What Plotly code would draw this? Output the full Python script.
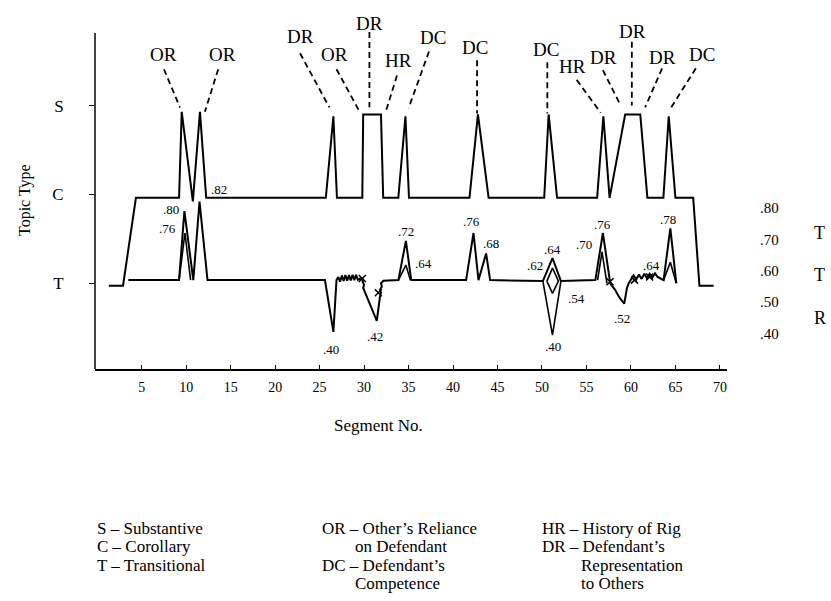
import plotly.graph_objects as go

# ---------------- data ----------------
# Topic-type path (segment number, level: T=1, C=2, S=3)
main_seg = [1.3, 2.9, 4.35, 9.2, 9.5, 10.75, 11.55, 12.25, 25.7, 26.55, 26.95, 29.8, 29.9, 31.9,
            32.15, 33.85, 34.65, 35.05, 41.85, 42.8, 44.0, 50.25, 50.75, 51.7, 56.2, 56.9, 57.6,
            59.35, 61.05, 61.85, 63.65, 64.25, 65.0, 67.0, 67.7, 69.3]
main_lvl = [0.97, 0.97, 1.96, 1.96, 2.93, 1.92, 2.93, 1.96, 1.96, 2.88, 1.96, 1.96, 2.9, 2.9,
            1.96, 1.96, 2.88, 1.96, 1.96, 2.9, 1.96, 1.96, 2.9, 1.96, 1.96, 2.88, 1.96,
            2.9, 2.9, 1.96, 1.96, 2.88, 1.96, 1.96, 0.97, 0.97]

# Rating path (segment number, rating on right scale)
rate_seg = [3.5, 9.2, 9.8, 10.8, 11.5, 12.4, 25.6, 26.55, 26.9,
            27.1, 27.3, 27.5, 27.7, 27.9, 28.1, 28.3, 28.5, 28.7, 28.9, 29.1, 29.3, 29.55, 29.8,
            29.85, 30.0, 29.9, 30.05, 31.43, 31.8, 31.9, 31.8, 32.0, 31.9, 32.17,
            33.86, 34.7, 35.3, 41.47, 42.3, 42.86, 43.72, 44.17, 50.1, 51.18, 52.13,
            56.0, 56.85, 57.67, 58.2, 58.7, 59.25, 59.4, 59.55, 59.75, 60.0,
            60.3, 60.6, 60.9, 61.2, 61.5, 61.8, 62.1, 62.4, 62.7, 63.0, 63.3, 63.67, 64.43, 65.1]
rate_val = [0.57, 0.57, 0.79, 0.57, 0.82, 0.57, 0.57, 0.405, 0.57,
            0.58, 0.565, 0.585, 0.567, 0.586, 0.568, 0.586, 0.569, 0.587, 0.57, 0.587, 0.571, 0.575, 0.575,
            0.565, 0.555, 0.545, 0.535, 0.44, 0.52, 0.53, 0.54, 0.55, 0.56, 0.568,
            0.57, 0.695, 0.57, 0.57, 0.72, 0.57, 0.655, 0.57, 0.567, 0.64, 0.567,
            0.57, 0.72, 0.56, 0.54, 0.515, 0.495, 0.52, 0.545, 0.56, 0.57,
            0.585, 0.572, 0.588, 0.574, 0.59, 0.576, 0.59, 0.578, 0.592, 0.58, 0.576, 0.57, 0.735, 0.56]

# Second (alternate) rating lines
alt_seg = [9.2, 9.86, 10.5, None, 33.86, 34.7, 35.2, None, 50.1, 51.18, 52.13, None,
           50.55, 51.18, 51.85, 51.18, 50.55, None, 56.25, 56.75, 57.3, None, 63.67, 64.43, 65.1]
alt_val = [0.57, 0.72, 0.57, None, 0.57, 0.618, 0.57, None, 0.567, 0.395, 0.567, None,
           0.567, 0.608, 0.567, 0.528, 0.567, None, 0.57, 0.66, 0.56, None, 0.57, 0.627, 0.56]

# x-marks on the rating path
xmark_seg = [29.8, 31.6, 57.65, 60.4, 62.1]
xmark_val = [0.575, 0.53, 0.565, 0.57, 0.58]

# Rating value labels
rlab_text = [".80", ".76", ".82", ".40", ".42", ".72", ".64", ".76", ".68", ".62", ".64", ".40",
             ".54", ".70", ".76", ".52", ".64", ".78"]
rlab_seg = [8.3, 7.95, 13.7, 26.3, 31.2, 34.7, 36.7, 42.1, 44.25, 49.2, 51.2, 51.2,
            53.9, 54.75, 56.85, 59.05, 62.35, 64.2]
rlab_val = [0.796, 0.733, 0.86, 0.35, 0.389, 0.724, 0.624, 0.756, 0.687, 0.618, 0.666, 0.36,
            0.512, 0.682, 0.746, 0.448, 0.618, 0.764]

# Topic code labels and their dashed leaders
code_text = ["OR", "OR", "DR", "OR", "DR", "HR", "DC", "DC", "DC", "HR", "DR", "DR", "DR", "DC"]
code_seg = [7.5, 14.1, 22.9, 26.7, 30.6, 33.9, 37.8, 42.5, 50.4, 53.4, 56.9, 60.2, 63.6, 68.0]
code_lvl = [3.58, 3.58, 3.78, 3.58, 3.93, 3.51, 3.77, 3.66, 3.63, 3.44, 3.54, 3.84, 3.54, 3.58]
lead_x0 = [7.5, 13.6, 22.8, 26.9, 30.6, 33.7, 37.3, 42.7, 50.6, 53.9, 56.85, 60.1, 63.5, 67.3]
lead_y0 = [3.41, 3.41, 3.59, 3.41, 3.83, 3.34, 3.61, 3.51, 3.49, 3.29, 3.40, 3.72, 3.42, 3.42]
lead_x1 = [9.3, 12.1, 26.1, 29.4, 30.6, 32.5, 35.0, 42.7, 50.6, 56.6, 58.7, 60.1, 61.6, 64.4]
lead_y1 = [2.98, 2.93, 2.98, 2.95, 2.98, 2.95, 2.97, 2.91, 2.91, 2.92, 3.03, 3.0, 2.98, 2.96]

x_ticks = [5, 10, 15, 20, 25, 30, 35, 40, 45, 50, 55, 60, 65, 70]
type_ticks = [1, 2, 3]
type_labels = ["T", "C", "S"]
rate_ticks = [0.4, 0.5, 0.6, 0.7, 0.8]
rate_labels = [".40", ".50", ".60", ".70", ".80"]
side_text = ["T", "T", "R"]
side_val = [0.719, 0.586, 0.448]

legend_cols = [
    ["S \u2013 Substantive", "C \u2013 Corollary", "T \u2013 Transitional"],
    ["OR \u2013 Other\u2019s Reliance", "on Defendant", "DC \u2013 Defendant\u2019s", "Competence"],
    ["HR \u2013 History of Rig", "DR \u2013 Defendant\u2019s", "Representation", "to Others"],
]
legend_indent = [
    [0, 0, 0],
    [0, 33, 0, 33],
    [0, 0, 39, 39],
]

# ---------------- figure ----------------
FONT = "Liberation Serif"
W, H = 831, 601
ML, MR, MT, MB = 95, 104, 17, 232
plot_w = W - ML - MR
plot_h = H - MT - MB

fig = go.Figure()

fig.add_trace(go.Scatter(x=main_seg, y=main_lvl, mode="lines",
                         line=dict(color="black", width=2), hoverinfo="skip"))

# leaders
lx, ly = [], []
for a, b, c, d in zip(lead_x0, lead_y0, lead_x1, lead_y1):
    lx += [a, c, None]
    ly += [b, d, None]
fig.add_trace(go.Scatter(x=lx, y=ly, mode="lines",
                         line=dict(color="black", width=1.8, dash="6px,4px"), hoverinfo="skip"))

fig.add_trace(go.Scatter(x=rate_seg, y=rate_val, yaxis="y2", mode="lines",
                         line=dict(color="black", width=2), hoverinfo="skip"))
fig.add_trace(go.Scatter(x=alt_seg, y=alt_val, yaxis="y2", mode="lines",
                         line=dict(color="black", width=1.6), hoverinfo="skip", connectgaps=False))
fig.add_trace(go.Scatter(x=xmark_seg, y=xmark_val, yaxis="y2", mode="markers",
                         marker=dict(symbol="x-thin", size=7, line=dict(color="black", width=1.5)),
                         hoverinfo="skip"))

ann = []
for t, x, y in zip(code_text, code_seg, code_lvl):
    ann.append(dict(x=x, y=y, xref="x", yref="y", text=t, showarrow=False, xanchor="center",
                    yanchor="middle", font=dict(family=FONT, size=19, color="black")))
for t, x, y in zip(rlab_text, rlab_seg, rlab_val):
    ann.append(dict(x=x, y=y, xref="x", yref="y2", text=t, showarrow=False, xanchor="center",
                    yanchor="middle", font=dict(family=FONT, size=13, color="black")))
for t, y in zip(side_text, side_val):
    ann.append(dict(x=(820 - ML) / plot_w, y=y, xref="paper", yref="y2", text=t, showarrow=False,
                    xanchor="center", yanchor="middle",
                    font=dict(family=FONT, size=18, color="black")))

ann.append(dict(x=(25 - ML) / plot_w, y=(369 - 200) / plot_h, xref="paper", yref="paper",
                text="Topic Type", textangle=-90, showarrow=False, xanchor="center", yanchor="middle",
                font=dict(family=FONT, size=16, color="black")))
ann.append(dict(x=(378 - ML) / plot_w, y=(369 - 425) / plot_h, xref="paper", yref="paper",
                text="Segment No.", showarrow=False, xanchor="center", yanchor="middle",
                font=dict(family=FONT, size=17, color="black")))

col_x = [95, 320, 540]
row_y = [528, 546.5, 565, 583.5]
for cx, col, ind in zip(col_x, legend_cols, legend_indent):
    for i, line in enumerate(col):
        ann.append(dict(x=(cx + ind[i] - ML) / plot_w, y=(369 - row_y[i]) / plot_h,
                        xref="paper", yref="paper", text=line, showarrow=False,
                        xanchor="left", yanchor="middle",
                        font=dict(family=FONT, size=17, color="black")))

y_lo = 1 + (283 - 369) / 88.7
y_hi = 1 + (283 - MT) / 88.7
r_lo = 0.60 + (270.7 - 369) / 314
r_hi = 0.60 + (270.7 - MT) / 314

fig.update_layout(
    width=W, height=H,
    margin=dict(l=ML, r=MR, t=MT, b=MB, autoexpand=False),
    paper_bgcolor="white", plot_bgcolor="white",
    showlegend=False,
    font=dict(family=FONT, color="black"),
    xaxis=dict(range=[-0.25, 70.8], tickvals=x_ticks, ticks="inside", ticklen=4, tickwidth=1.2,
               tickcolor="black", showline=True, linecolor="black", linewidth=2,
               showgrid=False, zeroline=False, tickfont=dict(family=FONT, size=14),
               ticklabelstandoff=4, automargin=False),
    yaxis=dict(range=[y_lo, y_hi], tickvals=type_ticks, ticktext=type_labels, ticks="outside",
               ticklen=5, tickwidth=1.2, tickcolor="black", showline=False,
               showgrid=False, zeroline=False, tickfont=dict(family=FONT, size=17),
               ticklabelstandoff=22, automargin=False),
    yaxis2=dict(range=[r_lo, r_hi], overlaying="y", side="right", tickvals=rate_ticks,
                ticktext=rate_labels, ticks="", showline=False, showgrid=False, zeroline=False,
                tickfont=dict(family=FONT, size=15), ticklabelstandoff=32, automargin=False),
    annotations=ann,
)
# left axis line (stops at top of original axis)
fig.add_shape(type="line", xref="paper", yref="y", x0=0, x1=0, y0=y_lo, y1=1 + (283 - 33) / 88.7,
              line=dict(color="black", width=1.5))

fig.write_html("out.html", config={"displayModeBar": False},
               post_script="document.body.style.margin='0';document.body.style.overflow='hidden';")
